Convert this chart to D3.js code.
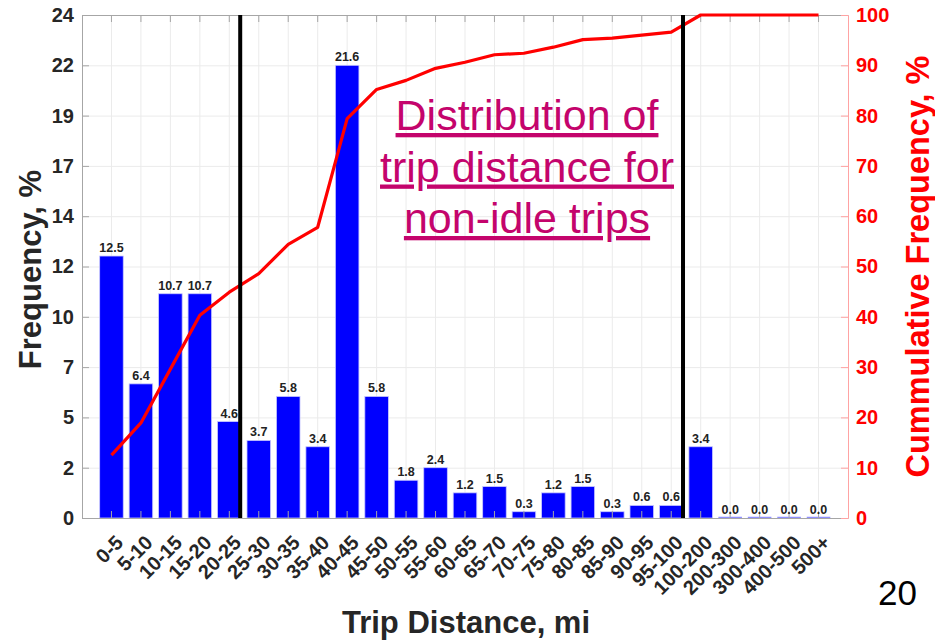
<!DOCTYPE html>
<html>
<head>
<meta charset="utf-8">
<script src="https://cdn.jsdelivr.net/npm/d3@7"></script>
<style>
  html, body { margin: 0; padding: 0; background: #ffffff; }
  svg { display: block; font-family: "Liberation Sans", Arial, sans-serif; }
</style>
</head>
<body>
<svg id="chart" width="935" height="640"></svg>
<script>
// ---- data ----
const categories = ["0-5","5-10","10-15","15-20","20-25","25-30","30-35","35-40","40-45","45-50",
  "50-55","55-60","60-65","65-70","70-75","75-80","80-85","85-90","90-95","95-100",
  "100-200","200-300","300-400","400-500","500+"];
const frequency = [12.5,6.4,10.7,10.7,4.6,3.7,5.8,3.4,21.6,5.8,1.8,2.4,1.2,1.5,0.3,1.2,1.5,0.3,0.6,0.6,3.4,0.0,0.0,0.0,0.0];
const cumulative = [12.5,18.9,29.6,40.3,44.9,48.6,54.4,57.8,79.4,85.2,87.0,89.4,90.6,92.1,92.4,93.6,95.1,95.4,96.0,96.6,100,100,100,100,100];
const leftTicks = [0,2.4,4.8,7.2,9.6,12,14.4,16.8,19.2,21.6,24];
const leftTickLabels = ["0","2","5","7","10","12","14","17","19","22","24"];
const rightTicks = [0,10,20,30,40,50,60,70,80,90,100];
const markerLines = [5.37, 20.4];           // positions in category-index units
const annotationLines = ["Distribution of", "trip distance for", "non-idle trips"];
const xTitle = "Trip Distance, mi";
const yTitleLeft = "Frequency, %";
const yTitleRight = "Cummulative Frequency, %";
const pageNumber = "20";

// ---- layout ----
const L = 82, R = 848, T = 15, B = 518;
const W = R - L, H = B - T;
const svg = d3.select("#chart");

const x = d3.scaleBand().domain(categories).range([L, R]).paddingInner(0.2).paddingOuter(0.6);
const xLin = d3.scaleLinear().domain([0, categories.length + 1]).range([L, R]);
const yL = d3.scaleLinear().domain([0, 24]).range([B, T]);
const yR = d3.scaleLinear().domain([0, 100]).range([B, T]);
const cx = d => x(d) + x.bandwidth() / 2;

// gridlines
const gridY = svg.append("g").attr("transform", `translate(${L},0)`)
  .call(d3.axisLeft(yL).tickValues(leftTicks).tickSize(-W).tickFormat(""));
gridY.select(".domain").remove();
gridY.selectAll("line").attr("stroke", "#ebebeb").attr("stroke-width", 1);

const gridX = svg.append("g").attr("transform", `translate(0,${B})`)
  .call(d3.axisBottom(x).tickSize(-H).tickFormat(""));
gridX.select(".domain").remove();
gridX.selectAll("line").attr("stroke", "#ebebeb").attr("stroke-width", 1);

// bars
svg.append("g").selectAll("rect").data(categories).join("rect")
  .attr("x", d => x(d))
  .attr("width", x.bandwidth())
  .attr("y", (d, i) => yL(frequency[i]))
  .attr("height", (d, i) => yL(0) - yL(frequency[i]))
  .attr("fill", "#0000ff")
  .attr("stroke", "#c8c8ff").attr("stroke-width", 0.8);

// zero-height bar edges
svg.append("g").selectAll("line").data(categories.filter((d, i) => frequency[i] === 0)).join("line")
  .attr("x1", d => x(d)).attr("x2", d => x(d) + x.bandwidth())
  .attr("y1", yL(0) - 0.5).attr("y2", yL(0) - 0.5)
  .attr("stroke", "#8f8fff").attr("stroke-width", 1.5);

// bottom axis
const xAxis = svg.append("g").attr("transform", `translate(0,${B})`)
  .call(d3.axisBottom(x).tickSizeInner(-7).tickSizeOuter(0));
xAxis.attr("font-size", null).attr("font-family", null);
xAxis.select(".domain").attr("stroke", "#a6a6a6");
xAxis.selectAll(".tick line").attr("stroke", "#a6a6a6");
xAxis.selectAll("text")
  .attr("x", 0).attr("y", 0).attr("dy", 0)
  .attr("text-anchor", "end")
  .attr("transform", "translate(13,26) rotate(-45)")
  .attr("fill", "#262626")
  .style("font-size", "20px").style("font-weight", "bold")
  .style("font-family", "'Liberation Sans', Arial, sans-serif");

// top axis (ticks only)
const topAxis = svg.append("g").attr("transform", `translate(0,${T})`)
  .call(d3.axisTop(x).tickSizeInner(-7).tickSizeOuter(0).tickFormat(""));
topAxis.select(".domain").attr("stroke", "#a6a6a6");
topAxis.selectAll(".tick line").attr("stroke", "#a6a6a6");

// left axis
const leftAxis = svg.append("g").attr("transform", `translate(${L},0)`)
  .call(d3.axisLeft(yL).tickValues(leftTicks).tickSizeInner(-7).tickSizeOuter(0).tickPadding(8)
    .tickFormat((d, i) => leftTickLabels[i]));
leftAxis.attr("font-size", null).attr("font-family", null);
leftAxis.select(".domain").attr("stroke", "#a6a6a6");
leftAxis.selectAll(".tick line").attr("stroke", "#a6a6a6");
leftAxis.selectAll("text").attr("fill", "#262626")
  .style("font-size", "20px").style("font-weight", "bold")
  .style("font-family", "'Liberation Sans', Arial, sans-serif");

// right axis
const rightAxis = svg.append("g").attr("transform", `translate(${R},0)`)
  .call(d3.axisRight(yR).tickValues(rightTicks).tickSizeInner(-7).tickSizeOuter(0).tickPadding(8));
rightAxis.attr("font-size", null).attr("font-family", null);
rightAxis.select(".domain").attr("stroke", "#ffa3a3");
rightAxis.selectAll(".tick line").attr("stroke", "#ffa3a3");
rightAxis.selectAll("text").attr("fill", "#ff0000")
  .style("font-size", "20px").style("font-weight", "bold")
  .style("font-family", "'Liberation Sans', Arial, sans-serif");

// bar value labels
svg.append("g").selectAll("text").data(categories).join("text")
  .attr("x", d => cx(d))
  .attr("y", (d, i) => yL(frequency[i]) - 4)
  .attr("text-anchor", "middle")
  .attr("font-size", 12.5).attr("font-weight", "bold")
  .attr("fill", "#222222")
  .text((d, i) => frequency[i].toFixed(1));

// cumulative line
const line = d3.line().x((d, i) => cx(categories[i])).y(d => yR(d));
svg.append("path").datum(cumulative)
  .attr("d", line)
  .attr("fill", "none")
  .attr("stroke", "#ff0000")
  .attr("stroke-width", 3.2)
  .attr("stroke-linejoin", "round");

// vertical marker lines
svg.append("g").selectAll("line").data(markerLines).join("line")
  .attr("x1", d => xLin(d)).attr("x2", d => xLin(d))
  .attr("y1", T).attr("y2", B)
  .attr("stroke", "#000000").attr("stroke-width", 4);

// axis titles
svg.append("text")
  .attr("transform", `translate(41,${(T + B) / 2 + 3}) rotate(-90)`)
  .attr("text-anchor", "middle")
  .attr("font-size", 31).attr("font-weight", "bold").attr("fill", "#262626")
  .text(yTitleLeft);

svg.append("text")
  .attr("transform", `translate(929,${(T + B) / 2}) rotate(-90)`)
  .attr("text-anchor", "middle")
  .attr("font-size", 32.5).attr("font-weight", "bold").attr("fill", "#ff0000")
  .text(yTitleRight);

svg.append("text")
  .attr("x", 466).attr("y", 633)
  .attr("text-anchor", "middle")
  .attr("font-size", 31).attr("font-weight", "bold").attr("fill", "#262626")
  .text(xTitle);

// annotation
svg.append("g").selectAll("text").data(annotationLines).join("text")
  .attr("x", 527)
  .attr("y", (d, i) => 130 + i * 51.5)
  .attr("text-anchor", "middle")
  .attr("font-size", 43)
  .attr("fill", "#c4046c")
  .style("text-decoration", "underline")
  .text(d => d);

// page number
svg.append("text")
  .attr("x", 878).attr("y", 605)
  .attr("font-size", 35).attr("fill", "#000000")
  .text(pageNumber);
</script>
</body>
</html>
